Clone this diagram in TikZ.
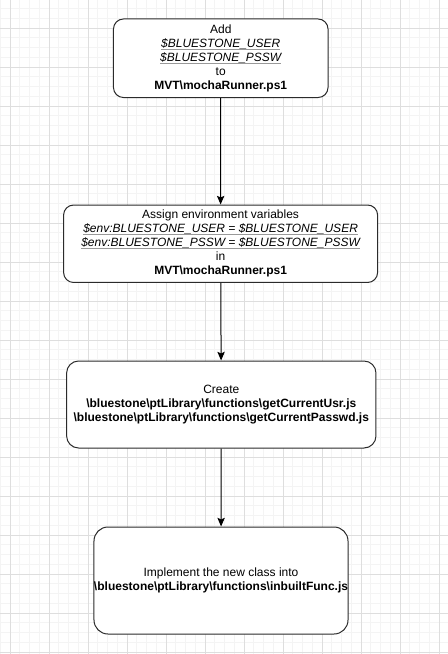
\documentclass[tikz,border=0pt]{standalone}
\usepackage{fontspec}
\setmainfont{Liberation Sans}
\usetikzlibrary{arrows.meta}
\definecolor{gridmajor}{HTML}{DEDEDE}
\definecolor{gridminor}{HTML}{F4F4F4}
\definecolor{boxline}{HTML}{2B2B2B}
\newcommand\myul[1]{\begingroup\setbox0\hbox{#1}\rlap{\textcolor{gray!80}{\rule[-1.6pt]{\wd0}{0.5pt}}}\box0\endgroup}
\newcommand\bs{\textbackslash}
\begin{document}
\begin{tikzpicture}[x=0.75pt,y=-0.75pt,
  flowbox/.style={draw=boxline, line width=0.75pt, fill=white, align=center,
    inner sep=0pt, font=\fontsize{9}{10.5}\selectfont},
  flowarrow/.style={draw=black, line width=0.75pt, -{Stealth[length=6.5pt,width=5.5pt,inset=1.2pt]}}]
\useasboundingbox (0,0) rectangle (448,654);
\fill[white] (0,0) rectangle (448,654);
% minor grid
\foreach \i in {0,...,46} {
  \draw[gridminor, line width=0.5pt] ({0.25+9.75*\i},0) -- ({0.25+9.75*\i},654);
}
\foreach \i in {0,...,67} {
  \draw[gridminor, line width=0.5pt] (0,{-1.25+9.75*\i}) -- (448,{-1.25+9.75*\i});
}
% major grid
\foreach \i in {0,...,11} {
  \draw[gridmajor, line width=0.6pt] ({10+39*\i},0) -- ({10+39*\i},654);
}
\foreach \i in {0,...,16} {
  \draw[gridmajor, line width=0.6pt] (0,{28+39*\i}) -- (448,{28+39*\i});
}
% boxes
\node[flowbox, rounded corners=7.5pt, minimum width=160.9pt, minimum height=58.9pt] (b1) at (220.75,58.25)
  {Add\\ \myul{\itshape \$BLUESTONE\_USER}\\ \myul{\itshape \$BLUESTONE\_PSSW}\\ to\\ \textbf{MVT\bs mochaRunner.ps1}};
\node[flowbox, rounded corners=7.5pt, minimum width=235.5pt, minimum height=58.1pt] (b2) at (220.6,243.75)
  {Assign environment variables\\ \myul{\itshape \$env:BLUESTONE\_USER = \$BLUESTONE\_USER}\\ \myul{\itshape \$env:BLUESTONE\_PSSW = \$BLUESTONE\_PSSW}\\ in\\ \textbf{MVT\bs mochaRunner.ps1}};
\node[flowbox, rounded corners=9pt, minimum width=232pt, minimum height=65.25pt] (b3) at (221.3,404.5)
  {Create\\ \textbf{\bs bluestone\bs ptLibrary\bs functions\bs getCurrentUsr.js}\\ \textbf{\bs bluestone\bs ptLibrary\bs functions\bs getCurrentPasswd.js}};
\node[flowbox, rounded corners=10.5pt, minimum width=190.5pt, minimum height=80.25pt] (b4) at (221,580.5)
  {Implement the new class into\\ \textbf{\bs bluestone\bs ptLibrary\bs functions\bs inbuiltFunc.js}};
% connectors
\draw[flowarrow] (b1) -- (b2);
\draw[flowarrow] (b2) -- (b3);
\draw[flowarrow] (b3) -- (b4);
\end{tikzpicture}
\end{document}
